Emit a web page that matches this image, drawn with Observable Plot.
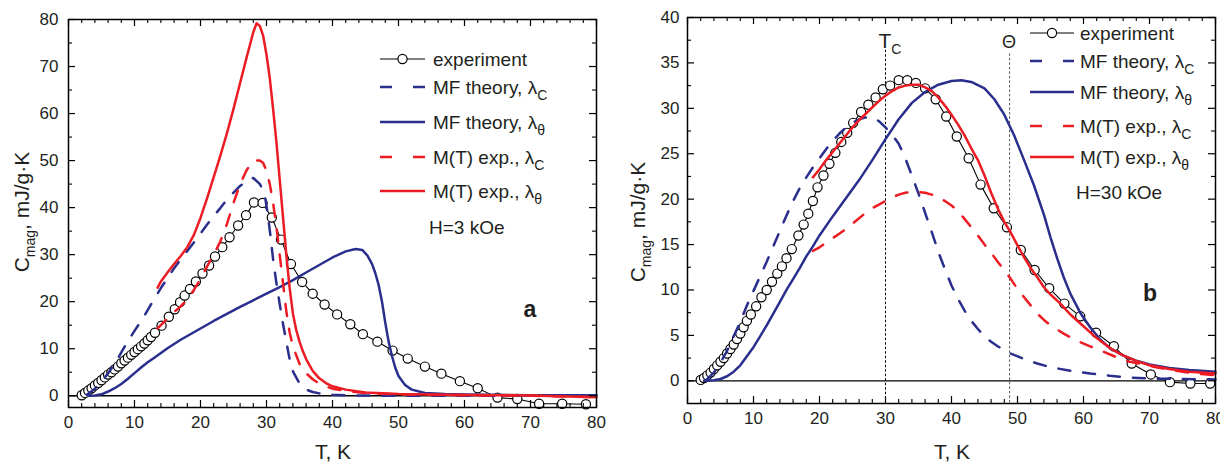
<!DOCTYPE html>
<html><head><meta charset="utf-8">
<script src="https://cdn.jsdelivr.net/npm/d3@7"></script>
<script src="https://cdn.jsdelivr.net/npm/@observablehq/plot@0.6"></script>
<style>
body{margin:0;background:#fff;}
#wrap{display:flex;width:1220px;height:462px;overflow:hidden;}
.panel{position:relative;width:610px;height:462px;flex:none;}
.panel svg{display:block;}
</style></head><body><div id="wrap"></div>
<script>
// ---------- Panel a : H = 3 kOe ----------
const aExp = [[2.0,0.1],[2.5,0.6],[3.0,1.1],[3.5,1.6],[4.0,2.2],[4.5,2.7],[5.0,3.3],[5.5,3.9],[6.0,4.5],[6.5,5.0],[7.0,5.6],[7.5,6.2],[8.0,6.9],[8.5,7.5],[9.0,8.1],[9.5,8.7],[10.0,9.3],[10.5,9.9],[11.0,10.5],[11.5,11.1],[12.0,11.8],[12.5,12.5],[13.1,13.4],[14.1,14.9],[15.2,16.8],[16.1,18.4],[16.9,19.9],[17.6,21.3],[18.4,22.7],[19.3,24.3],[20.3,26.0],[21.3,27.7],[22.2,29.6],[23.3,31.6],[24.4,33.7],[25.7,36.2],[26.9,38.4],[28.1,41.1],[29.4,41.0],[30.8,37.9],[32.2,33.2],[33.7,28.0],[35.4,24.2],[37.0,21.7],[38.8,19.4],[40.7,17.3],[42.7,15.2],[44.6,13.1],[46.8,11.5],[49.1,9.6],[51.4,7.9],[54.0,6.2],[56.5,4.7],[59.3,3.1],[62.0,1.6],[65.0,-0.4],[68.0,-0.7],[71.3,-1.7],[74.8,-1.7],[78.4,-1.8]];
const aMfC = [[2.8,0.2],[4,1.5],[5,3.0],[6,4.8],[7,6.8],[8,9.2],[9,11.6],[10,13.8],[11,15.9],[12,18.2],[13,20.6],[14,22.9],[15,25.0],[16,27.1],[17,29.0],[18,30.8],[19,32.6],[20,34.5],[21,36.4],[22,38.2],[23,39.9],[24,41.7],[25,43.2],[26,44.6],[27,45.7],[28,46.3],[29,45.0],[29.7,43.0],[30.2,38.5],[30.6,34],[31,29],[31.5,24],[32,19.5],[32.5,15.3],[33,11.5],[33.5,7.8],[34,5.2],[35,2.6],[36,1.3],[37,0.8],[38,0.5],[40,0.2],[43,0.05],[50,0],[60,0],[70,0],[80,0]];
const aMfT = [[3,0],[4,0.05],[5,0.3],[6,0.9],[7,1.6],[8,2.5],[9,3.6],[10,4.8],[11,6.0],[12,7.1],[13,8.1],[14,9.1],[15,10.1],[16,11.0],[17,11.9],[18,12.7],[19,13.5],[20,14.3],[22,15.9],[24,17.4],[26,18.9],[28,20.3],[30,21.7],[32,23.1],[34,24.6],[36,26.2],[38,27.8],[40,29.4],[42,30.7],[43.5,31.2],[44.5,31.0],[45.3,29.8],[46,28],[46.5,26],[47,23.5],[47.5,20],[48,15.5],[48.5,11.5],[49,8.5],[49.5,6],[50,4.2],[51,2.3],[52,1.3],[54,0.6],[57,0.35],[60,0.25],[70,0.12],[80,0.08]];
const aMtC = [[13.5,14.3],[14,15.0],[15,16.5],[16,17.8],[17,19.0],[18,20.5],[19,22.5],[20,24.8],[21,27.5],[22,30.0],[23,32.8],[24,36.5],[25,41],[26,45],[27,48],[28,50],[29,50],[29.5,49.5],[30,47.8],[30.5,45],[31,41],[31.5,36],[32,30],[32.5,24],[33,18],[33.5,13.5],[34,10.5],[35,6.8],[36,4.8],[37,3.5],[38,2.6],[39,2.0],[40,1.5],[42,1.0],[45,0.6],[50,0.3],[60,0.1],[70,0],[80,-0.3]];
const aMtT = [[13.5,23.0],[14,24.3],[15,26.2],[16,28.0],[17,29.7],[18,31.6],[19,34.2],[20,37.8],[21,42.0],[22,46.5],[23,51.0],[24,55.8],[25,61.0],[26,66.5],[27,72.0],[28,77.3],[28.5,79.2],[29,78.6],[29.5,76.5],[30,72.5],[30.5,67.5],[31,61],[31.5,54],[32,46],[32.5,38],[33,30],[33.5,23],[34,17.5],[34.5,14],[35,11.5],[35.5,9.5],[36,7.8],[37,5.3],[38,3.7],[39,2.7],[40,2.0],[42,1.3],[45,0.7],[50,0.35],[60,0.15],[70,0.05],[80,-0.3]];

// ---------- Panel b : H = 30 kOe ----------
const bExp = [[2.0,0.1],[2.5,0.3],[3.0,0.6],[3.5,0.9],[4.0,1.3],[4.5,1.7],[5.0,2.1],[5.5,2.5],[6.0,3.0],[6.5,3.5],[7.0,4.0],[7.5,4.6],[8.0,5.2],[8.5,5.9],[9.0,6.6],[9.6,7.3],[10.4,8.2],[11.2,9.2],[12.0,10.0],[12.8,10.9],[13.6,11.8],[14.3,12.6],[15.0,13.5],[15.8,14.5],[16.8,16.0],[17.6,17.2],[18.3,18.4],[19.0,19.8],[19.7,21.3],[20.6,22.6],[21.5,23.9],[22.4,25.1],[23.3,26.3],[24.2,27.3],[25.1,28.4],[26.3,29.6],[27.4,30.4],[28.5,31.2],[29.6,32.1],[30.7,32.5],[32.0,33.1],[33.3,33.1],[34.6,32.8],[36.0,32.2],[37.6,31.0],[39.2,29.1],[40.8,26.9],[42.6,24.5],[44.4,21.6],[46.4,19.0],[48.4,16.9],[50.5,14.4],[52.6,12.2],[54.8,10.2],[57.1,8.5],[59.5,7.1],[61.9,5.3],[64.6,3.8],[67.3,1.9],[70.2,0.7],[73.1,-0.15],[76.2,-0.3],[79.2,-0.3]];
const bMfC = [[3,0.2],[4,0.9],[5,2.0],[6,3.3],[7,4.9],[8,6.5],[9,8.3],[10,9.9],[11,11.5],[12,13.1],[13,14.8],[14,16.5],[15,18.2],[16,19.8],[17,21.2],[18,22.4],[19,23.5],[20,24.5],[21,25.5],[22,26.4],[23,27.2],[24,27.9],[25,28.4],[26,28.8],[27,29.0],[28,29.0],[29,28.6],[30,27.9],[31,27.1],[32,26.1],[33,24.5],[34,22.6],[35,20.6],[36,18.5],[37,16.4],[38,14.2],[39,12.3],[40,10.5],[41,9.0],[42,7.7],[43,6.6],[44,5.7],[45,4.9],[46,4.3],[47,3.8],[49,3.0],[51,2.4],[53,1.9],[55,1.5],[58,1.1],[61,0.8],[64,0.55],[67,0.35],[70,0.25],[75,0.2],[80,0.15]];
const bMfT = [[2.5,0],[4,0.05],[5,0.2],[6,0.5],[7,1.0],[8,1.7],[9,2.7],[10,3.7],[11,4.9],[12,6.1],[13,7.4],[14,8.7],[15,10.0],[16,11.2],[17,12.4],[18,13.7],[19,14.8],[20,16.0],[22,18.1],[24,20.1],[26,22.1],[28,24.3],[30,26.6],[32,28.8],[34,30.6],[36,31.8],[38,32.6],[40,33.0],[41.5,33.1],[43,32.9],[45,32.2],[46.5,31.0],[48,29.3],[49.5,27.0],[51,24.3],[52.5,21.5],[54,18.3],[55,15.8],[56,13.5],[57,11.4],[58,9.6],[59.5,7.5],[61,5.9],[62.6,4.5],[64,3.6],[66,2.8],[68,2.2],[70,1.8],[73,1.4],[76,1.2],[80,1.0]];
const bMtC = [[19,14.3],[20,14.7],[21,15.2],[22,15.7],[23,16.2],[24,16.7],[25,17.3],[26,17.9],[27,18.5],[28,19.0],[29,19.4],[30,19.8],[31,20.2],[32,20.5],[33,20.7],[34,20.8],[35,20.8],[36,20.7],[37,20.5],[38,20.2],[39,19.8],[40,19.3],[41,18.7],[42,17.8],[43,16.9],[44,16.0],[45,15.0],[46,14.1],[47,13.1],[48,12.2],[49,11.2],[50,10.1],[51,9.2],[52,8.3],[53,7.4],[54,6.7],[55,6.1],[57,5.2],[59,4.4],[61,3.8],[63,3.2],[65,2.6],[67,2.1],[69,1.8],[71,1.5],[74,1.1],[77,0.8],[80,0.6]];
const bMtT = [[19,22.4],[20,23.3],[21,24.3],[22,25.2],[23,26.1],[24,27.0],[25,27.9],[26,28.7],[27,29.4],[28,30.1],[29,30.8],[30,31.4],[31,31.9],[32,32.3],[33,32.5],[34,32.6],[35,32.6],[36,32.3],[37,31.9],[38,31.2],[39,30.3],[40,29.3],[41,28.2],[42,27.0],[43,25.6],[44,24.3],[45,22.6],[46,20.7],[47,19.0],[48,17.5],[49,16.3],[50,14.9],[51,13.6],[52,12.4],[53,11.4],[54,10.3],[55,9.5],[56.5,8.5],[58,7.3],[60,6.0],[62,4.7],[64,3.6],[66,2.8],[68,2.2],[70,1.7],[73,1.3],[76,1.0],[80,0.8]];
const bTc = 30, bTheta = 48.8;

// ---------- ticks / labels ----------
const xMajor = [0,10,20,30,40,50,60,70,80];
const xMinor = d3.range(0, 81, 2);
const aYMajor = [0,10,20,30,40,50,60,70,80];
const aYMinor = d3.range(0, 81, 5);
const bYMajor = [0,5,10,15,20,25,30,35,40];
const bYMinor = d3.range(0, 40.1, 2.5);
const legendNames = [["experiment",""],["MF theory, λ","C"],["MF theory, λ","θ"],["M(T) exp., λ","C"],["M(T) exp., λ","θ"]];

const NAVY = "#2a2e8c", RED = "#ec1c24", INK = "#231f20";
const DASH = "12,13";
const FONT = "Liberation Sans";
const W = 610, H = 462;

function dataPlot(c) {
  const xy = {x: d => d[0], y: d => d[1]};
  const marks = [
    Plot.ruleY([0], {stroke: "#000", strokeWidth: 1.3}),
    ...c.vlines.map(v => Plot.ruleX([v.x], {y1: v.top, y2: c.ymin, stroke: v.color, strokeWidth: 1, strokeDasharray: "2.5,2"})),
    Plot.line(c.exp, {...xy, stroke: "#000", strokeWidth: 1.1}),
    Plot.dot(c.exp, {...xy, r: 4.6, fill: "#fff", stroke: "#000", strokeWidth: 1.2}),
    Plot.line(c.mfC, {...xy, stroke: NAVY, strokeWidth: 2.5, strokeDasharray: DASH}),
    Plot.line(c.mfT, {...xy, stroke: NAVY, strokeWidth: 2.5}),
    Plot.line(c.mtC, {...xy, stroke: RED, strokeWidth: 2.5, strokeDasharray: DASH}),
    Plot.line(c.mtT, {...xy, stroke: RED, strokeWidth: 2.5}),
    Plot.axisX(xMajor, {anchor: "bottom", tickSize: 0, tickPadding: 8, fontSize: 17, fill: INK, label: null}),
    Plot.axisY(c.yMajor, {anchor: "left", tickSize: 0, tickPadding: c.ypad, fontSize: 17, fill: INK, label: null})
  ];
  const plot = Plot.plot({
    width: W, height: H,
    marginLeft: c.ml, marginRight: c.mr, marginTop: c.mt, marginBottom: c.mb,
    x: {domain: [0, 80]}, y: {domain: [c.ymin, c.ymax]},
    style: {fontFamily: FONT, background: "#fff", overflow: "visible"},
    marks
  });
  const svg = d3.select(plot);
  const xs = plot.scale("x");
  svg.append("text").attr("x", c.xTitle[0]).attr("y", c.xTitle[1])
    .attr("text-anchor", "middle").attr("font-size", 21).attr("fill", INK).attr("font-family", FONT).text("T, K");
  const yt = svg.append("text").attr("transform", `translate(${c.yTitle[0]},${c.yTitle[1]}) rotate(-90)`)
    .attr("text-anchor", "middle").attr("font-size", 21).attr("fill", INK).attr("font-family", FONT);
  yt.append("tspan").text("C");
  yt.append("tspan").attr("font-size", 14).attr("dy", 6).text("mag");
  yt.append("tspan").attr("dy", -6).text(", mJ/g·K");
  const g = svg.append("g").attr("font-family", FONT).attr("font-size", 19).attr("fill", INK).attr("text-anchor", "start");
  const styles = [
    {stroke: "#000", w: 1.1, dash: null},
    {stroke: NAVY, w: 2.6, dash: DASH},
    {stroke: NAVY, w: 2.6, dash: null},
    {stroke: RED, w: 2.6, dash: DASH},
    {stroke: RED, w: 2.6, dash: null}
  ];
  legendNames.forEach((n, i) => {
    const y = c.legY[i], s = styles[i];
    const ln = g.append("line").attr("x1", c.legX0).attr("x2", c.legX1).attr("y1", y).attr("y2", y)
      .attr("stroke", s.stroke).attr("stroke-width", s.w);
    if (s.dash) ln.attr("stroke-dasharray", "12,21");
    if (i === 0) g.append("circle").attr("cx", (c.legX0 + c.legX1) / 2).attr("cy", y).attr("r", 4.6)
      .attr("fill", "#fff").attr("stroke", "#000").attr("stroke-width", 1.2);
    const t = g.append("text").attr("x", c.legText).attr("y", y).attr("dy", "0.36em").attr("text-anchor", "start");
    t.append("tspan").text(n[0]);
    if (n[1]) t.append("tspan").attr("font-size", 14).attr("dy", 6).text(n[1]);
  });
  g.append("text").attr("x", c.legText - 4).attr("y", c.legY[5]).attr("dy", "0.36em").attr("text-anchor", "start").text(c.field);
  svg.append("text").attr("x", c.letter[0]).attr("y", c.letter[1]).attr("dy", "0.36em")
    .attr("text-anchor", "middle").attr("font-size", 23).attr("font-weight", "bold").attr("fill", INK)
    .attr("font-family", FONT).text(c.name);
  if (c.vlines.length) {
    const tc = svg.append("text").attr("x", xs.apply(bTc) - 6.5).attr("y", 48).attr("font-size", 21)
      .attr("text-anchor", "start").attr("fill", INK).attr("font-family", FONT);
    tc.append("tspan").text("T");
    tc.append("tspan").attr("font-size", 14).attr("dy", 6).text("C");
    svg.append("text").attr("x", xs.apply(bTheta)).attr("y", 48).attr("text-anchor", "middle")
      .attr("font-size", 18).attr("fill", INK).attr("font-family", FONT).text("Θ");
  }
  return plot;
}

// frame + inward ticks, in a second transparent Plot with the same scales, laid over the data plot
function framePlot(c) {
  const iw = W - c.ml - c.mr, ih = H - c.mt - c.mb;
  const isXMaj = v => xMajor.includes(v), isYMaj = v => c.yMajor.includes(v);
  const xMin = xMinor.filter(v => !isXMaj(v)), yMin = c.yMinor.filter(v => !isYMaj(v));
  const plot = Plot.plot({
    width: W, height: H,
    marginLeft: c.ml, marginRight: c.mr, marginTop: c.mt, marginBottom: c.mb,
    x: {domain: [0, 80], axis: null}, y: {domain: [c.ymin, c.ymax], axis: null},
    style: {background: "none", overflow: "visible", position: "absolute", left: "0px", top: "0px"},
    marks: [
      Plot.tickX(xMin, {x: d => d, insetTop: ih - 4, stroke: "#000", strokeWidth: 1.1}),
      Plot.tickX(xMajor, {x: d => d, insetTop: ih - 7, stroke: "#000", strokeWidth: 1.2}),
      Plot.tickX(xMin, {x: d => d, insetBottom: ih - 4, stroke: "#000", strokeWidth: 1.1}),
      Plot.tickX(xMajor, {x: d => d, insetBottom: ih - 7, stroke: "#000", strokeWidth: 1.2}),
      Plot.tickY(yMin, {y: d => d, insetRight: iw - 4, stroke: "#000", strokeWidth: 1.1}),
      Plot.tickY(c.yMajor, {y: d => d, insetRight: iw - 7, stroke: "#000", strokeWidth: 1.2}),
      Plot.tickY(yMin, {y: d => d, insetLeft: iw - 4, stroke: "#000", strokeWidth: 1.1}),
      Plot.tickY(c.yMajor, {y: d => d, insetLeft: iw - 7, stroke: "#000", strokeWidth: 1.2}),
      Plot.frame({stroke: "#000", strokeWidth: 1.5})
    ]
  });
  plot.style.position = "absolute";
  plot.style.left = "0px";
  plot.style.top = "0px";
  plot.style.background = "none";
  return plot;
}

function addPanel(c) {
  const div = document.createElement("div");
  div.className = "panel";
  div.appendChild(dataPlot(c));
  div.appendChild(framePlot(c));
  document.getElementById("wrap").appendChild(div);
}

addPanel({
  name: "a", ml: 68, mr: 14, mt: 19, mb: 55, ymin: -2.5, ymax: 80, ypad: 10,
  exp: aExp, mfC: aMfC, mfT: aMfT, mtC: aMtC, mtT: aMtT,
  yMajor: aYMajor, yMinor: aYMinor, vlines: [],
  xTitle: [333, 459], yTitle: [29, 212],
  legX0: 380, legX1: 425, legText: 433, legY: [59, 87, 122, 157, 191, 227], field: "H=3 kOe",
  letter: [530, 309]
});
addPanel({
  name: "b", ml: 77, mr: 5, mt: 17, mb: 59, ymin: -2.5, ymax: 40, ypad: 8,
  exp: bExp, mfC: bMfC, mfT: bMfT, mtC: bMtC, mtT: bMtT,
  yMajor: bYMajor, yMinor: bYMinor,
  vlines: [{x: bTc, top: 36.4, color: "#000"}, {x: bTheta, top: 36.0, color: "#555"}],
  xTitle: [342, 459], yTitle: [35, 222],
  legX0: 420, legX1: 464, legText: 470, legY: [33, 61, 92, 126, 157, 192], field: "H=30 kOe",
  letter: [540, 293]
});
</script>
</body></html>
